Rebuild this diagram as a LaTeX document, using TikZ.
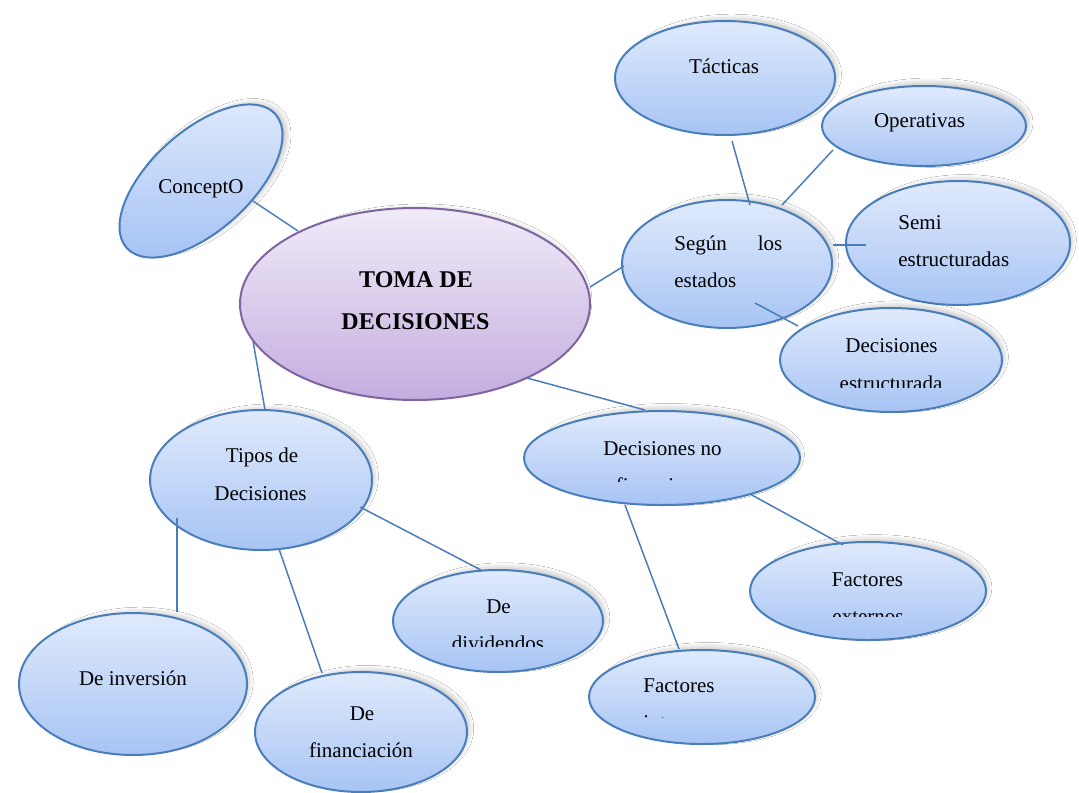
\documentclass[tikz,border=0pt]{standalone}
\usepackage{fontspec}
\setmainfont{Liberation Serif}
\usetikzlibrary{shapes.geometric,calc,shadows.blur}

\definecolor{ovalline}{HTML}{4A7EBB}
\definecolor{ovaltop}{HTML}{E0EAFC}
\definecolor{ovalbot}{HTML}{A7C4F4}
\definecolor{hubline}{HTML}{8064A2}
\definecolor{hubtop}{HTML}{F0EBF8}
\definecolor{hubbot}{HTML}{C3ADDF}
\definecolor{linkcol}{HTML}{4A7EBB}

\tikzset{
  oval/.style={ellipse, draw=ovalline, line width=1pt, top color=ovaltop,
    bottom color=ovalbot, inner sep=0pt,
    blur shadow={shadow xshift=3.6pt, shadow yshift=1.8pt, shadow scale=0.93,
      shadow opacity=40, shadow blur steps=10, shadow blur radius=4pt}},
  hub/.style={oval, draw=hubline, top color=hubtop, bottom color=hubbot},
  lbl/.style={anchor=base, inner sep=0pt, font=\fontsize{10.5}{12}\selectfont},
  lblw/.style={lbl, anchor=base west},
  hublbl/.style={lbl, font=\fontsize{12}{14}\selectfont\bfseries},
  link/.style={draw=linkcol, line width=0.75pt},
}

\begin{document}
\begin{tikzpicture}[x=0.5pt, y=-0.5pt]
  \fill[white] (0,0) rectangle (1079,792);
  \useasboundingbox (0,0) rectangle (1079,792);

  % ellipses
  \node[oval, minimum width=110pt, minimum height=57pt] (tact) at (725,78) {};
  \node[oval, minimum width=102pt, minimum height=40pt] (oper) at (924,126) {};
  \node[oval, minimum width=100pt, minimum height=50pt, rotate=42] (conc) at (201,181) {};
  \node[hub,  minimum width=175pt, minimum height=96pt] (toma) at (415,304) {};
  \node[oval, minimum width=105pt, minimum height=64pt] (segun) at (727,264) {};
  \node[oval, minimum width=112pt, minimum height=62pt] (semi) at (958,243) {};
  \node[oval, minimum width=111pt, minimum height=52pt] (destr) at (891,360) {};
  \node[oval, minimum width=138pt, minimum height=47pt] (dnf) at (662,458) {};
  \node[oval, minimum width=111pt, minimum height=70pt] (tipos) at (261,480) {};
  \node[oval, minimum width=114pt, minimum height=71pt] (inv) at (133,684) {};
  \node[oval, minimum width=106pt, minimum height=60pt] (fin) at (361,732) {};
  \node[oval, minimum width=105pt, minimum height=51pt] (div) at (498,621) {};
  \node[oval, minimum width=118pt, minimum height=49pt] (fext) at (868,591) {};
  \node[oval, minimum width=113pt, minimum height=47pt] (fint) at (702,697) {};

  % connectors
  \draw[link] ($(conc)+(52,20)$) -- ($(toma)+(-117,-73)$);
  \draw[link] ($(toma)+(175,-17)$) -- ($(segun)+(-103,2)$);
  \draw[link] ($(toma)+(-162,37)$) -- ($(tipos)+(4,-70)$);
  \draw[link] ($(toma)+(112,74)$) -- ($(dnf)+(-17,-48)$);
  \draw[link] ($(tact)+(7,63)$) -- ($(segun)+(23,-59)$);
  \draw[link] ($(oper)+(-91,24)$) -- ($(segun)+(55,-59)$);
  \draw[link] ($(segun)+(106,-19)$) -- ($(semi)+(-92,2)$);
  \draw[link] ($(segun)+(28,39)$) -- ($(destr)+(-93,-34)$);
  \draw[link] ($(tipos)+(-84,38)$) -- ($(inv)+(44,-72)$);
  \draw[link] ($(tipos)+(18,69)$) -- ($(fin)+(-39,-59)$);
  \draw[link] ($(tipos)+(99,27)$) -- ($(div)+(-17,-51)$);
  \draw[link] ($(dnf)+(-37,47)$) -- ($(fint)+(-23,-48)$);
  \draw[link] ($(dnf)+(88,36)$) -- ($(fext)+(-25,-46)$);

  % labels
  \node[lbl] (tact-t) at (724,74) {Tácticas};
  \node[lbl] (oper-t) at (919.5,127) {Operativas};
  \node[lbl] (conc-t) at (201,193) {ConceptO};
  \node[hublbl] (toma-t1) at (416,287) {TOMA DE};
  \node[hublbl] (toma-t2) at (415.5,329) {DECISIONES};
  \node[lblw] (segun-t1) at (674,250) {\makebox[54pt][s]{Según\hfill los}};
  \node[lblw] (segun-t2) at (674,287) {estados};
  \node[lblw] (semi-t1) at (898,229) {Semi};
  \node[lblw] (semi-t2) at (898,266) {estructuradas};
  \node[lbl] (destr-t1) at (891.5,352) {Decisiones};
  \begin{scope}
    \clip (780,360) rectangle (1002,387);
    \node[lbl] (destr-t2) at (891,390) {estructurada};
  \end{scope}
  \node[lbl] (dnf-t1) at (662.5,455) {Decisiones no};
  \begin{scope}
    \clip (524,460) rectangle (800,481.5);
    \node[lbl] (dnf-t2) at (662,492) {financieras};
  \end{scope}
  \node[lbl] (tipos-t1) at (262,462) {Tipos de};
  \node[lbl] (tipos-t2) at (260.5,500) {Decisiones};
  \node[lbl] (inv-t) at (133,685) {De inversión};
  \node[lbl] (fin-t1) at (362,720) {De};
  \node[lbl] (fin-t2) at (361,757) {financiación};
  \node[lbl] (div-t1) at (498.5,613) {De};
  \begin{scope}
    \clip (393,620) rectangle (604,646.5);
    \node[lbl] (div-t2) at (498,650) {dividendos};
  \end{scope}
  \node[lbl] (fext-t1) at (867.5,586) {Factores};
  \begin{scope}
    \clip (750,595) rectangle (986,616);
    \node[lbl] (fext-t2) at (868,623) {externos};
  \end{scope}
  \node[lblw] (fint-t1) at (643,692) {Factores};
  \begin{scope}
    \clip (589,700) rectangle (816,717.5);
    \node[lblw] (fint-t2) at (643,729) {internos};
  \end{scope}
\end{tikzpicture}
\end{document}
